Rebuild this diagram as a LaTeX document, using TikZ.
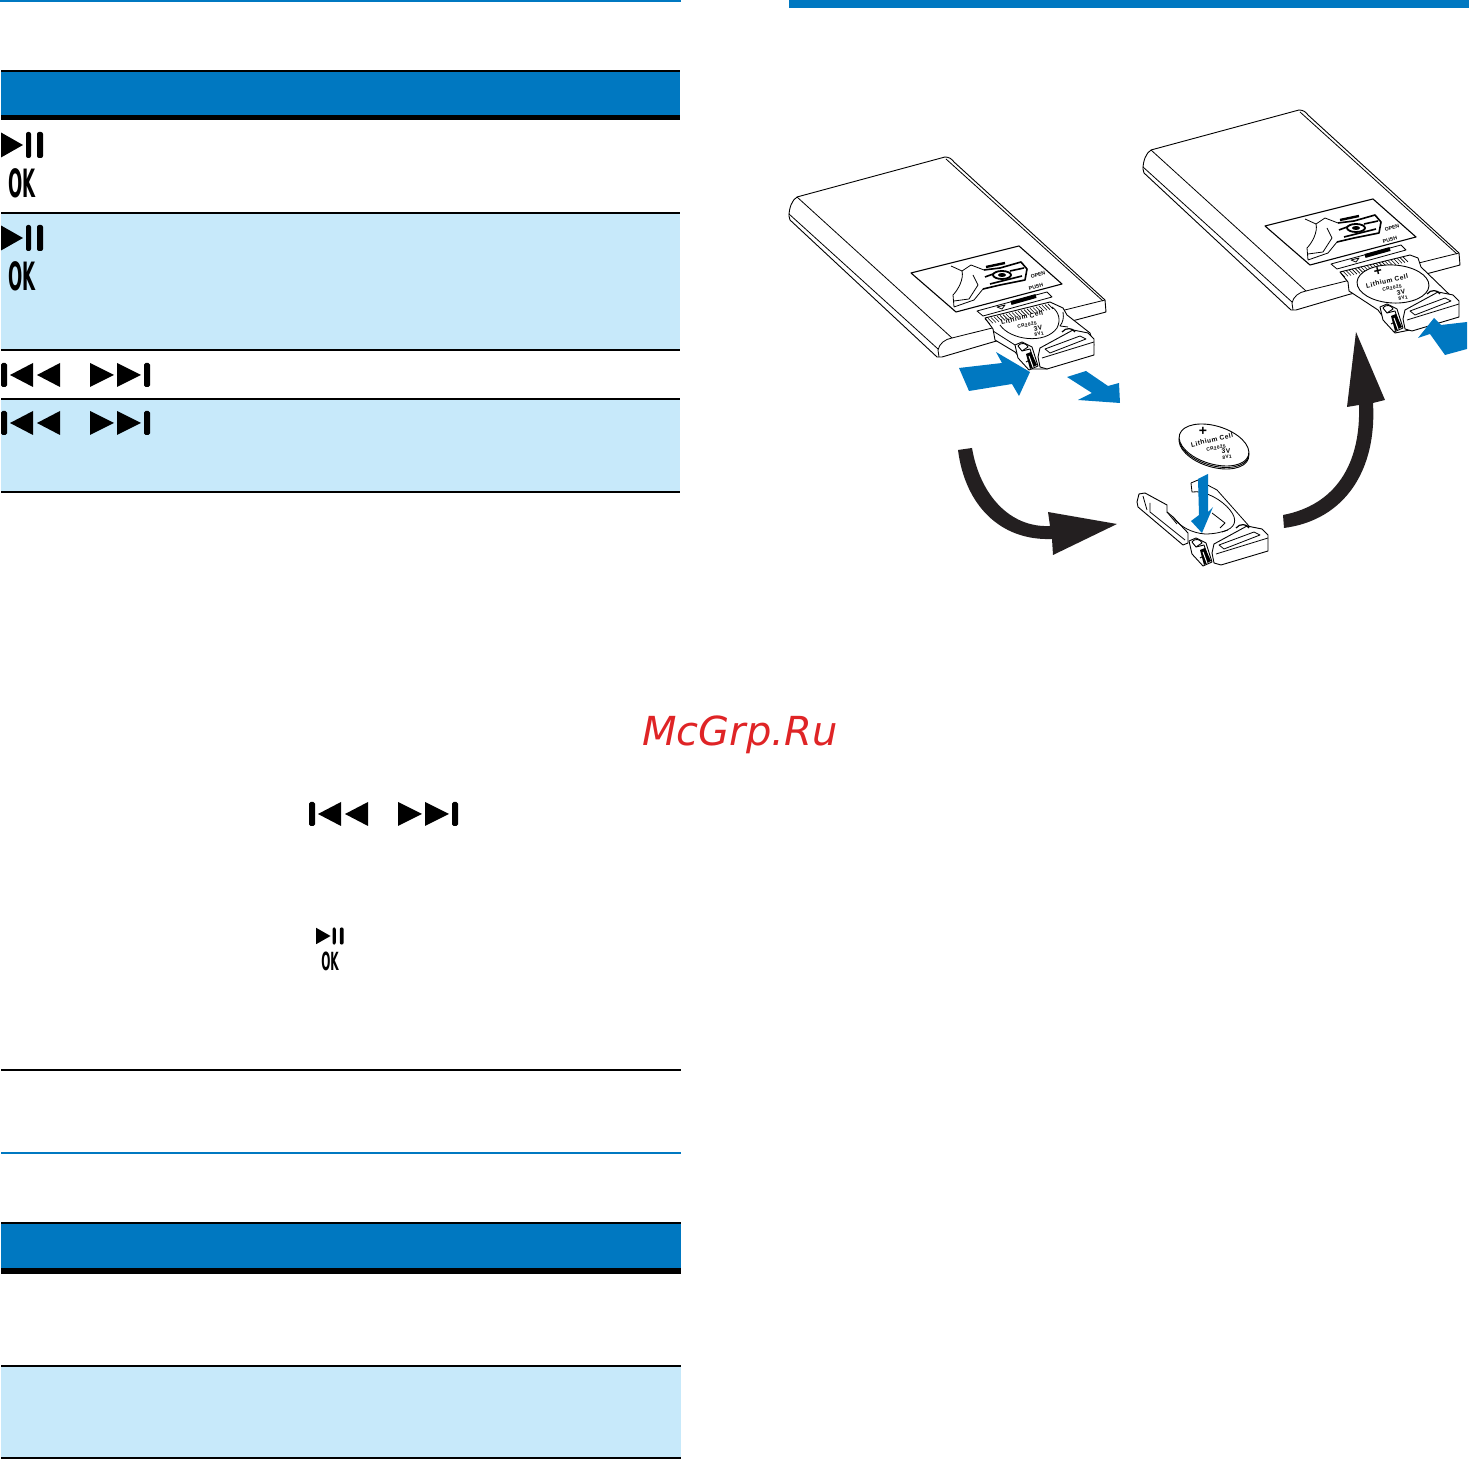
\documentclass[tikz,border=0pt]{standalone}
\usepackage{fontspec}
\setsansfont{Liberation Sans}
\newfontfamily\markfont{DejaVu Sans}
\newfontfamily\okfont{DejaVu Sans}
\newfontfamily\coinfont[LetterSpace=8]{Liberation Sans}
\usetikzlibrary{shapes.geometric,positioning}
\definecolor{manualblue}{HTML}{0078C1}
\definecolor{rowblue}{HTML}{C7E9FA}
\definecolor{sweepblack}{HTML}{231F20}
\definecolor{markred}{HTML}{DF2426}
\tikzset{
  devline/.style={draw=black, line width=.45pt, line join=round, fill=white},
  thinline/.style={draw=black, line width=.4pt, line join=round},
  darkline/.style={draw=black, line width=.8pt, line join=round},
  coinlabel/.style={font=\coinfont\bfseries\fontsize{3.3}{3.3}\selectfont, inner sep=0pt, rotate=13},
  coinsmall/.style={coinlabel, font=\coinfont\bfseries\fontsize{2.4}{2.4}\selectfont},
  coinplus/.style={coinlabel, font=\sffamily\bfseries\fontsize{7}{7}\selectfont},
  coinbody/.style={ellipse, devline, inner sep=0pt},
  oktext/.style={font=\okfont\bfseries\fontsize{19.5}{19.5}\selectfont, xscale=.43, inner sep=0pt},
  oksmall/.style={font=\okfont\bfseries\fontsize{12.5}{12.5}\selectfont, xscale=.43, inner sep=0pt},
  stickertext/.style={font=\sffamily\bfseries\fontsize{2.6}{2.6}\selectfont, inner sep=0pt, rotate=15},
  playpause/.pic={
    \fill (0,-12.5) -- (22,0) -- (0,12.5) -- cycle;
    \fill[rounded corners=1pt] (25,-13) rectangle (30,13);
    \fill[rounded corners=1pt] (36,-13) rectangle (42,13);
  },
  prevnext/.pic={
    \fill[rounded corners=.8pt] (0,-12) rectangle (6,12);
    \fill (9,0) -- (32,-12) -- (32,12) -- cycle;
    \fill (36,0) -- (59,-12) -- (59,12) -- cycle;
    \fill (89,-12) -- (113,0) -- (89,12) -- cycle;
    \fill (116,-12) -- (140,0) -- (116,12) -- cycle;
    \fill[rounded corners=.8pt] (143,-12) rectangle (149,12);
  },
  remote/.pic={
    \draw[devline] (797,197) -- (945,157) .. controls (949,157) and (952,159) .. (954,162)
      -- (1105,300) -- (1106,312) -- (993,342) -- (942,357) -- (937,357) -- (790,220) -- (789,216)
      .. controls (789,208) and (792,200) .. (797,197) -- cycle;
    \draw[thinline] (797,197) -- (952,338) .. controls (945,339) and (939,344) .. (938,350) -- (939,357);
    \draw[thinline] (789,214) -- (938,349);
    \draw[thinline] (946,159) -- (1103,301);
    \draw[thinline] (952,338) -- (1105,300);
    % sticker on the back
    \draw[darkline, line width=.55pt] (911,273) -- (1019,246) -- (1062,284) -- (956,312) -- cycle;
    \draw[thinline] (951,266) -- (962,271) .. controls (964,279) and (958,290) .. (953,295) -- (954,307)
      (962,271) -- (971,265) -- (984,270)
      (973,275) -- (978,285) -- (969,299) -- (954,301)
      (954,307) -- (974,300) -- (983,289);
    \draw[darkline] (984,270) -- (1000,268) -- (1021,262) -- (1027,269) -- (1025,280) -- (1000,285) -- (983,289)
      (985,277) -- (993,274) (1010,271) -- (1024,268) (990,284) -- (1022,276);
    \draw[black, line width=.9pt, fill=white] (1002,275) ellipse [x radius=9, y radius=4];
    \fill (1002,275) ellipse [x radius=4, y radius=2];
    \draw[darkline, line width=1.2pt] (986,267) -- (1005,263);
    \node[stickertext] (openlbl) at (1038,275) {OPEN};
    \node[stickertext] (pushlbl) at (1036,287) {PUSH};
    % strip under the sticker
    \draw[thinline] (977,311) -- (1047,292) -- (1052,297) -- (983,316) -- cycle;
    \draw[black, line width=2pt] (1011,303) -- (1036,296);
    \draw[thinline] (997,307) -- (1005,305) -- (1002,309) -- cycle;
  },
  trayhatch/.pic={
    \foreach \i in {0,...,21}
      \draw[black, line width=.3pt] (985+3*\i,319-.72*\i) -- (990+3*\i,324-.72*\i);
  },
  trayhead/.pic={
    \draw[devline] (1040,348) -- (1073,330) -- (1088,333) -- (1094,339) -- (1094,355) -- (1047,369)
      -- (1040,367) -- (1038,357) -- cycle;
    \draw[thinline] (1042,358) -- (1094,342);
    \draw[thinline] (1045,349) -- (1080,336) -- (1086,339) -- (1050,353) -- cycle;
    \draw[darkline, line width=.6pt] (1062,332) .. controls (1066,327) and (1073,328) .. (1075,332);
    \draw[devline] (1015,345) -- (1022,342) -- (1032,347) -- (1038,366) -- (1029,370) -- (1018,358) -- cycle;
    \draw[devline] (1018,346) .. controls (1020,342) and (1027,343) .. (1028,347) -- (1022,351) -- cycle;
    \draw[devline] (1022,351) -- (1030,349) -- (1033,358) -- (1026,362);
    \fill (1026,354) -- (1031,352) -- (1037,365) -- (1030,369) -- cycle;
    \draw[white, line width=.5pt] (1029,356) -- (1033,367);
  },
}

\begin{document}
\begin{tikzpicture}[x=.5pt, y=-.5pt]
  \useasboundingbox (0,0) rectangle (1469,1459);
  % page rules
  \fill[manualblue] (0,0) rectangle (681,2);
  \fill[manualblue] (789,0) rectangle (1469,8);
  \fill[manualblue] (1,1152) rectangle (681,1154);
  % table bands, top then bottom
  \foreach \ya/\yb/\xe in {72/115/680, 1224/1268/681}
    \fill[manualblue] (1,\ya) rectangle (\xe,\yb);
  \foreach \ya/\yb/\xe in {214/349/680, 400/491/680, 1367/1457/681}
    \fill[rowblue] (1,\ya) rectangle (\xe,\yb);
  \foreach \ya/\yb/\xe in {70/72/680, 115/120.5/680, 212/214/680, 349/351/680, 398/400/680, 491/493/680,
      1069/1071/681, 1222/1224/681, 1268/1274/681, 1365/1367/681, 1457/1459/681}
    \fill[black] (1,\ya) rectangle (\xe,\yb);
  % key symbols
  \pic at (1,145) {playpause};
  \node[oktext] (oka) at (22,183) {OK};
  \pic at (1,238) {playpause};
  \node[oktext] (okb) at (22,276) {OK};
  \pic at (1,375) {prevnext};
  \pic at (1,423) {prevnext};
  \pic at (309,814) {prevnext};
  \pic[scale=.66] at (316,936) {playpause};
  \node[oksmall] (okc) at (330,961) {OK};
  \node[font=\markfont\itshape\fontsize{20}{20}\selectfont, text=markred, inner sep=0pt] (watermark) at (740,735) {McGrp.Ru};

  % first remote, tray going out
  \pic at (0,0) {remote};
  \draw[devline] (985,318) -- (1050,302) -- (1063,308) -- (1067,315) -- (1090,333) -- (1094,345)
    -- (1047,369) -- (1030,369) -- (1015,352) -- (995,340) -- (993,329) -- cycle;
  \pic at (0,0) {trayhatch};
  \draw[thinline] (1000,325) .. controls (1010,340) and (1045,345) .. (1057,328)
    .. controls (1061,320) and (1059,312) .. (1052,307);
  \draw[thinline] (1063,312) .. controls (1064,318) and (1063,322) .. (1060,326) -- (1068,327);
  \draw[thinline] (993,331) -- (1015,345);
  \node[coinlabel] (cella) at (1022,317.5) {Lithium Cell};
  \node[coinsmall] (typea) at (1027,325) {CR2025};
  \node[coinlabel] (volta) at (1038,328) {3V};
  \node[coinsmall] (marka) at (1039,334) {8V1};
  \pic at (0,0) {trayhead};

  % second remote, tray going in
  \pic at (354,-47) {remote};
  \draw[devline] (1340,272) -- (1410,255) -- (1418,258) -- (1421,267) -- (1452,297) -- (1458,310)
    -- (1410,330) -- (1395,333) -- (1378,310) -- (1349,291) -- (1348,282) -- cycle;
  \pic at (355,-47) {trayhatch};
  \node[coinbody, minimum width=36pt, minimum height=19pt, rotate=-3] (coinb) at (1393,284) {};
  \node[coinplus] (plusb) at (1378,272) {+};
  \node[coinlabel] (cellb) at (1387,281) {Lithium Cell};
  \node[coinsmall] (typeb) at (1392,288) {CR2025};
  \node[coinlabel] (voltb) at (1401,292) {3V};
  \node[coinsmall] (markb) at (1403,298) {8V1};
  \pic at (365,-38) {trayhead};

  % loose coin
  \node[coinbody, minimum width=36pt, minimum height=19pt, rotate=-17] (coinrim) at (1214,448) {};
  \node[coinbody, minimum width=36pt, minimum height=19pt, rotate=-17] (coinmid) at (1214,446.5) {};
  \node[coinbody, minimum width=36pt, minimum height=19pt, rotate=-17] (coinc) at (1214,445) {};
  \node[coinplus, rotate=-13] (plusc) at (1203,431) {+};
  \node[coinlabel] (cellc) at (1212,440) {Lithium Cell};
  \node[coinsmall] (typec) at (1216,448) {CR2025};
  \node[coinlabel, rotate=-8] (voltc) at (1226,451) {3V};
  \node[coinsmall, rotate=-8] (markc) at (1227,457) {8V1};

  % empty tray
  \draw[devline] (1139,494) -- (1145,493) -- (1167,505) -- (1167,512) -- (1173,517) -- (1188,533)
    -- (1188,543) -- (1183,545) -- (1138,507) -- (1137,502) -- cycle;
  \draw[thinline] (1143,496) -- (1147,510) (1150,503) -- (1150,512) -- (1185,540) (1167,512) -- (1177,524);
  \draw[thinline] (1173,517) .. controls (1180,527) and (1192,533) .. (1205,534) .. controls (1215,534) and (1222,532) .. (1228,530);
  \draw[thinline] (1191,483) -- (1198,480) -- (1217,490) -- (1249,526);
  \draw[thinline] (1191,483) -- (1192,492) .. controls (1205,490) and (1222,500) .. (1230,510)
    .. controls (1238,520) and (1236,528) .. (1222,532);
  \draw[thinline] (1212,513) -- (1225,523) -- (1220,528);
  \pic at (174,196) {trayhead};
  \fill[manualblue] (1198,479) -- (1208,474) -- (1208,512) -- (1213,507) -- (1202,533) -- (1191,521) -- (1199,515) -- cycle;

  % blue push arrows
  \fill[manualblue] (959,368) -- (1002,363) -- (996,352) -- (1030,372) -- (1019,396) -- (1012,384) -- (969,391) -- cycle;
  \fill[manualblue] (1067,377) -- (1086,371) -- (1108,386) -- (1119,383) -- (1120,403) -- (1078,400) -- (1092,393) -- cycle;
  \fill[manualblue] (1418,338) -- (1434,318) -- (1441,325) -- (1467,322) -- (1467,349) -- (1445,355) -- (1430,334) -- cycle;

  % black sweep arrows
  \fill[sweepblack] (958,450) -- (972,448) .. controls (980,495) and (1010,528) .. (1050,526)
    -- (1048,512) -- (1117,524) -- (1053,555) -- (1052,539) .. controls (1000,541) and (965,505) .. (958,450) -- cycle;
  \fill[sweepblack] (1283,515) .. controls (1335,505) and (1361,465) .. (1359,405) -- (1347,407) -- (1356,332)
    -- (1385,400) -- (1373,403) .. controls (1377,470) and (1345,520) .. (1284,528) -- cycle;
\end{tikzpicture}
\end{document}
